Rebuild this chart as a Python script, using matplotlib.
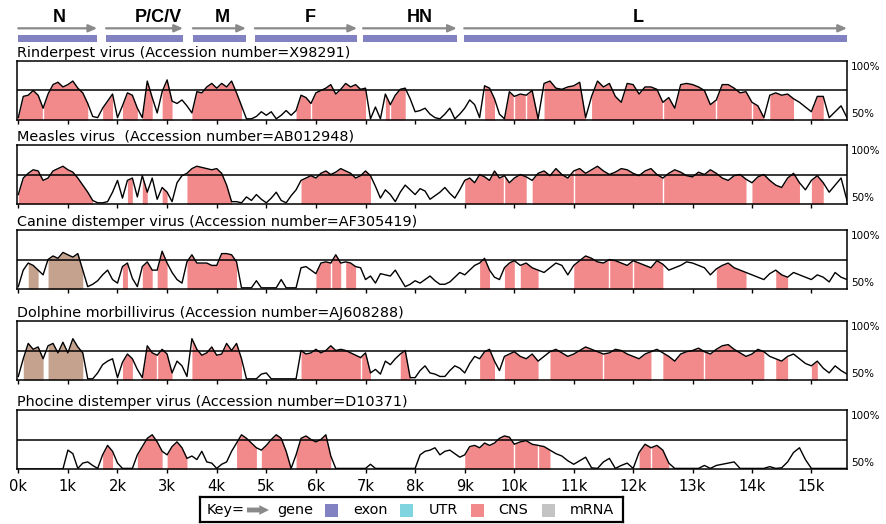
import numpy as np
import matplotlib
matplotlib.use('Agg')
import matplotlib.pyplot as plt

W, H = 887, 524

# ---------------- data ----------------
positions = np.arange(0, 15601, 100)          # genome position (bp)
tick_pos = np.arange(0, 15001, 1000)
tick_labels = [f"{i}k" for i in range(16)]

titles = [
    "Rinderpest virus (Accession number=X98291)",
    "Measles virus  (Accession number=AB012948)",
    "Canine distemper virus (Accession number=AF305419)",
    "Dolphine morbillivirus (Accession number=AJ608288)",
    "Phocine distemper virus (Accession number=D10371)",
]

rinderpest = [
    52, 70, 71, 75, 71, 60, 72, 80, 82, 78,
    80, 83, 77, 73, 64, 53, 52, 60, 66, 72,
    52, 62, 73, 71, 60, 52, 83, 69, 56, 74,
    84, 66, 64, 67, 62, 56, 74, 73, 78, 81,
    77, 81, 78, 83, 73, 62, 51, 51, 53, 57,
    54, 57, 51, 54, 58, 54, 58, 71, 69, 64,
    73, 75, 77, 80, 72, 76, 81, 78, 80, 76,
    77, 51, 61, 51, 72, 63, 71, 76, 77, 68,
    57, 58, 60, 55, 52, 51, 55, 60, 51, 55,
    60, 67, 63, 52, 79, 77, 68, 55, 51, 74,
    70, 72, 71, 75, 51, 81, 83, 77, 76, 78,
    79, 82, 52, 70, 83, 78, 81, 70, 65, 81,
    80, 72, 78, 78, 76, 65, 69, 60, 80, 81,
    80, 78, 75, 63, 67, 80, 80, 77, 73, 74,
    65, 62, 52, 71, 73, 71, 72, 68, 65, 61,
    57, 70, 70, 52, 57, 62, 52,
]
measles = [
    58, 72, 76, 79, 78, 70, 72, 78, 80, 82,
    79, 77, 72, 66, 60, 53, 51, 51, 52, 60,
    70, 55, 70, 72, 56, 74, 60, 72, 54, 64,
    60, 52, 68, 74, 76, 80, 82, 81, 80, 79,
    80, 76, 66, 52, 52, 51, 56, 53, 58, 54,
    51, 55, 60, 53, 51, 57, 62, 70, 72, 74,
    72, 76, 78, 75, 77, 80, 78, 76, 72, 74,
    78, 74, 65, 55, 62, 58, 52, 60, 66, 62,
    58, 63, 61, 54, 57, 60, 64, 59, 55, 62,
    70, 72, 68, 75, 73, 70, 78, 72, 74, 68,
    72, 75, 73, 70, 76, 78, 74, 80, 75, 72,
    78, 80, 76, 79, 82, 78, 75, 77, 80, 79,
    76, 74, 78, 80, 75, 72, 76, 79, 77, 74,
    73, 77, 75, 79, 76, 72, 70, 74, 75, 71,
    68, 73, 75, 70, 66, 64, 72, 76, 68, 62,
    70, 74, 68, 60, 66, 72, 53,
]
canine = [
    52, 66, 72, 70, 66, 62, 75, 78, 76, 81,
    79, 77, 80, 66, 52, 54, 57, 62, 66, 58,
    55, 69, 72, 59, 52, 69, 73, 66, 66, 82,
    72, 64, 58, 55, 73, 79, 72, 72, 72, 70,
    70, 80, 80, 79, 73, 51, 51, 51, 57, 51,
    51, 51, 51, 58, 51, 51, 51, 68, 69, 66,
    63, 72, 73, 72, 79, 72, 73, 72, 69, 68,
    58, 61, 55, 63, 62, 61, 66, 59, 52, 54,
    57, 55, 58, 61, 57, 54, 54, 56, 60, 64,
    62, 66, 70, 72, 76, 66, 60, 58, 68, 72,
    74, 70, 72, 68, 66, 64, 68, 72, 70, 62,
    70, 74, 78, 76, 73, 72, 75, 74, 72, 70,
    74, 72, 70, 68, 74, 71, 66, 68, 70, 73,
    72, 70, 68, 62, 67, 70, 72, 68, 66, 64,
    62, 60, 58, 63, 66, 62, 60, 64, 62, 60,
    58, 62, 60, 56, 64, 60, 58,
]
dolphin = [
    53, 68, 81, 76, 78, 68, 79, 81, 73, 82,
    73, 85, 78, 73, 51, 51, 56, 63, 66, 68,
    52, 65, 72, 68, 59, 52, 79, 73, 71, 76,
    72, 56, 66, 62, 53, 85, 76, 71, 73, 78,
    71, 72, 81, 75, 81, 68, 51, 51, 51, 55,
    56, 51, 51, 51, 51, 51, 51, 75, 72, 73,
    76, 73, 75, 79, 75, 76, 75, 73, 71, 69,
    73, 56, 59, 55, 66, 63, 68, 72, 75, 52,
    52, 58, 62, 56, 55, 53, 53, 58, 62, 60,
    56, 64, 70, 68, 74, 76, 66, 58, 70, 72,
    74, 70, 68, 72, 66, 70, 74, 76, 73, 70,
    72, 75, 78, 76, 74, 72, 73, 76, 75, 72,
    70, 68, 72, 74, 76, 73, 70, 66, 72, 74,
    75, 77, 74, 72, 76, 79, 80, 76, 73, 70,
    72, 76, 74, 70, 68, 66, 70, 72, 68, 64,
    62, 66, 60, 56, 62, 58, 55,
]
phocine = [
    50, 50, 50, 50, 50, 50, 50, 50, 50, 50,
    66, 63, 50.5, 55, 56, 53, 50.5, 62, 70, 65,
    55, 50.5, 50.5, 50.5, 62, 69, 76, 79, 73, 65,
    62, 69, 73, 68, 59, 61, 58, 65, 56, 55,
    50.5, 54, 56, 65, 72, 79, 76, 72, 68, 66,
    70, 75, 79, 76, 65, 50.5, 62, 76, 78, 75,
    73, 75, 79, 61, 50.5, 50.5, 50.5, 50.5, 50.5, 50.5,
    50.5, 54, 50.5, 50.5, 50.5, 50.5, 50.5, 50.5, 50.5, 50.5,
    50.5, 62, 65, 66, 68, 62, 65, 66, 63, 60,
    62, 69, 70, 68, 72, 70, 72, 76, 78, 77,
    71, 73, 74, 71, 70, 69, 66, 63, 61, 57,
    54, 57, 60, 51, 50.5, 56, 59, 50.5, 53, 55,
    50.5, 64, 71, 68, 70, 66, 55, 50.5, 50.5, 50.5,
    50.5, 50.5, 53, 50.5, 53, 54, 55, 56, 50.5, 50.5,
    50.5, 50.5, 50.5, 52, 50.5, 51, 56, 64, 68, 58,
    50.5, 50.5, 50.5, 50.5, 50.5, 50.5, 50.5,
]
series = [rinderpest, measles, canine, dolphin, phocine]

# conserved regions (bp): CNS (pink) and CNS overlapping mRNA (tan)
cns = [
    [(0, 500), (500, 1400), (1700, 1900), (2100, 2400), (2500, 2700), (2900, 3100),
     (3500, 4500), (5600, 5900), (5900, 7000), (7400, 7500), (7500, 7800),
     (9400, 9600), (9800, 10000), (10000, 10200), (10200, 10400), (10500, 11200),
     (11300, 12500), (12500, 13400), (13400, 14000), (14000, 14200), (14300, 14700),
     (15000, 15200)],
    [(0, 1500), (2200, 2300), (2500, 2600), (2900, 3000), (3400, 4300), (5700, 7100),
     (9000, 9800), (9800, 10200), (10300, 11000), (11000, 12500), (12500, 13900),
     (14000, 14800), (15000, 15200)],
    [(2100, 2200), (2500, 2700), (2800, 3000), (3400, 4400), (6000, 6300), (6300, 6500),
     (6600, 6800), (9300, 9500), (9800, 10000), (10100, 10400), (11000, 11600),
     (11600, 12000), (12000, 12500), (13400, 13900), (14400, 14600)],
    [(2100, 2300), (2500, 2800), (2800, 3100), (3500, 4500), (5700, 6900), (6900, 7100),
     (7700, 7900), (9300, 9600), (9800, 10400), (10600, 11500), (11500, 12300),
     (12500, 13200), (13200, 14200), (14400, 14600), (15000, 15100)],
    [(1700, 1900), (2400, 2900), (3000, 3400), (4400, 4800), (4900, 5500), (5600, 6300),
     (9000, 10000), (10000, 10400), (10400, 10600), (12100, 12300), (12300, 12600)],
]
cns_mrna = [
    [], [],
    [(200, 400), (600, 1300)],
    [(100, 500), (600, 1300)],
    [],
]

genes = ["N", "P/C/V", "M", "F", "HN", "L"]
gene_start = [0, 1770, 3520, 4770, 6950, 8990]
gene_end = [1590, 3320, 4590, 6830, 8840, 15600]
gene_label_pos = [820, 2820, 4110, 5880, 8100, 12080]

key_items = ["gene", "exon", "UTR", "CNS", "mRNA"]

# ---------------- style ----------------
PINK = "#f28a8c"
TAN = "#c4a28e"
EXON = "#8282c2"
UTR = "#80d4e0"
MRNA = "#c4c4c4"
ARROW = "#8a8a8a"


def fwd(x):
    return np.interp(x, [-10000, 10000, 30000], [-496.0, 496.0, 1684.0])


def inv(u):
    return np.interp(u, [-496.0, 496.0, 1684.0], [-10000, 10000, 30000])


fig = plt.figure(figsize=(W / 100, H / 100), dpi=100)


def px_axes(x0, y0, x1, y1):
    return fig.add_axes([x0 / W, 1 - y1 / H, (x1 - x0) / W, (y1 - y0) / H])


XL = (-26, 15600)

# gene track
gax = px_axes(17, 6, 847, 46)
gax.set_xscale('function', functions=(fwd, inv))
gax.set_xlim(*XL)
gax.set_ylim(46, 6)
gax.axis('off')
for g, s, e, lp in zip(genes, gene_start, gene_end, gene_label_pos):
    gax.annotate('', xy=(e, 28.3), xytext=(s, 28.3),
                 arrowprops=dict(arrowstyle='-|>,head_length=0.5,head_width=0.22',
                                 color=ARROW, lw=1.6, shrinkA=0, shrinkB=0))
    gax.barh(38.8, e - s, left=s, height=7.4, color=EXON, lw=0)
    gax.text(lp, 18, g, ha='center', va='center', fontsize=13,
             fontweight='bold', family='Liberation Sans')

panel_tops = [61, 145, 230, 321, 410]
panel_h = 59

for i in range(5):
    top = panel_tops[i]
    ax = px_axes(17, top, 847, top + panel_h)
    ax.set_xscale('function', functions=(fwd, inv))
    ax.set_xlim(*XL)
    ax.set_ylim(50, 100)
    x = positions
    y = np.array(series[i], dtype=float)
    for regs, col in ((cns_mrna[i], TAN), (cns[i], PINK)):
        for s, e in regs:
            m = (x >= s) & (x <= e)
            ax.fill_between(x[m], 50, y[m], color=col, lw=0)
    allreg = cns_mrna[i] + cns[i]
    starts = {s for s, e in allreg}
    ends = {e for s, e in allreg}
    for b in sorted(starts & ends):
        yb = y[positions == b][0]
        ax.vlines(b, 50, yb, color='white', lw=1.0)
    ax.plot(x, y, color='black', lw=1.0, solid_joinstyle='round')
    ax.axhline(75, color='black', lw=1.1)
    for sp in ax.spines.values():
        sp.set_linewidth(1.1)
    ax.set_yticks([])
    ax.set_xticks(tick_pos)
    ax.tick_params(axis='x', direction='out', length=3, width=1, pad=4,
                   labelsize=10.6, labelbottom=(i == 4))
    if i == 4:
        ax.set_xticklabels(tick_labels)
    ax.text(1.005, 0.98, '100%', transform=ax.transAxes, ha='left', va='top', fontsize=7.5)
    ax.text(1.005, 0.02, '50%', transform=ax.transAxes, ha='left', va='bottom', fontsize=7.5)
    fig.text(17 / W, 1 - (top - 4) / H, titles[i], fontsize=10.4, va='baseline', ha='left')

# key
kax = px_axes(200, 497, 623, 522)
kax.set_xlim(200, 623)
kax.set_ylim(522, 497)
kax.set_xticks([])
kax.set_yticks([])
for sp in kax.spines.values():
    sp.set_linewidth(1.6)
ky = 510
kax.text(207, ky, "Key=", va='center', ha='left', fontsize=10.4)
kax.annotate('', xy=(269, ky), xytext=(247, ky),
             arrowprops=dict(arrowstyle='simple,head_length=0.7,head_width=0.7,tail_width=0.35',
                             color=ARROW, lw=0, shrinkA=0, shrinkB=0))
kax.text(277, ky, key_items[0], va='center', ha='left', fontsize=10.4)
sq_x = [325, 400, 471, 542]
txt_x = [353, 429, 498, 570]
cols = [EXON, UTR, PINK, MRNA]
for sx, tx, c, lab in zip(sq_x, txt_x, cols, key_items[1:]):
    kax.add_patch(plt.Rectangle((sx, ky - 6.5), 13, 13, color=c, lw=0))
    kax.text(tx, ky, lab, va='center', ha='left', fontsize=10.4)

fig.savefig('out.png', dpi=100)
